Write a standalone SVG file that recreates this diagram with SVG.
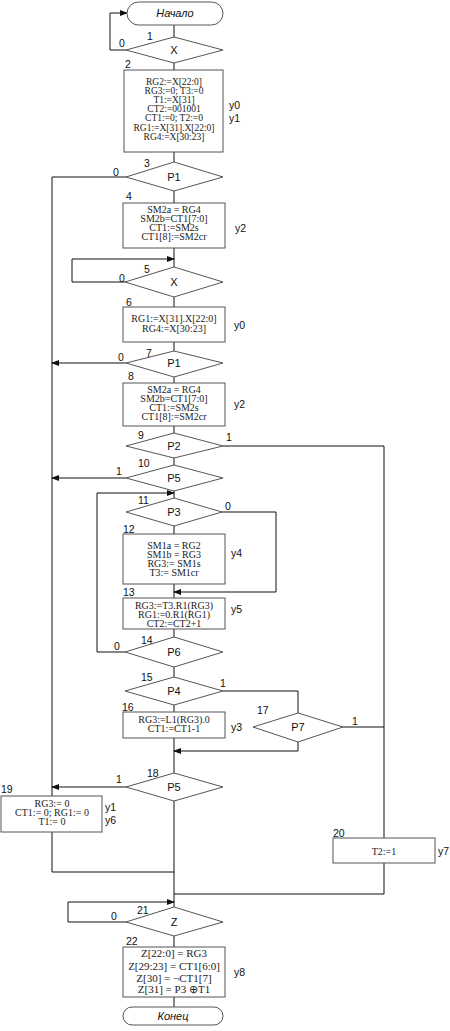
<svg xmlns="http://www.w3.org/2000/svg" width="450" height="1031" viewBox="0 0 450 1031">
<style>
.s{fill:#fff;stroke:#555;stroke-width:1}
.c{fill:none;stroke:#111;stroke-width:1}
.t{font-family:"Liberation Serif","Times New Roman",serif;font-size:10px;fill:#222;text-anchor:middle}
.t2{font-family:"Liberation Serif","Times New Roman",serif;font-size:9.5px;fill:#222;text-anchor:middle}
.t3{font-family:"Liberation Serif","Times New Roman",serif;font-size:11px;fill:#222;text-anchor:middle}
.l{font-family:"Liberation Sans",Arial,sans-serif;font-size:10.5px;fill:#111}
.d{font-family:"Liberation Sans",Arial,sans-serif;font-size:11px;fill:#111;text-anchor:middle}
.i{font-family:"Liberation Sans",Arial,sans-serif;font-size:11px;font-style:italic;fill:#111;text-anchor:middle}
</style>
<defs>
<marker id="a" markerWidth="8" markerHeight="6" refX="7" refY="3" orient="auto" markerUnits="userSpaceOnUse">
<path d="M0,0 L8,3 L0,6 Z" fill="#111"/>
</marker>
</defs>
<rect width="450" height="1031" fill="#fff"/>

<g id="connectors">
<path class="c" d="M174,25 V37"/>
<path class="c" d="M174,63 V70"/>
<path class="c" d="M174,152 V162"/>
<path class="c" d="M174,191 V203"/>
<path class="c" d="M174,248 V267"/>
<path class="c" d="M174,297 V307"/>
<path class="c" d="M174,342 V351"/>
<path class="c" d="M174,377 V383"/>
<path class="c" d="M174,426 V433"/>
<path class="c" d="M174,458 V465"/>
<path class="c" d="M174,491 V498"/>
<path class="c" d="M174,526 V534"/>
<path class="c" d="M174,584 V598"/>
<path class="c" d="M174,629 V637"/>
<path class="c" d="M174,667 V677"/>
<path class="c" d="M174,705 V712"/>
<path class="c" d="M174,738 V773"/>
<path class="c" d="M174,801 V907"/>
<path class="c" d="M174,936 V947"/>
<path class="c" d="M174,997 V1007"/>
<path class="c" d="M126,50 H110 V13 H127" marker-end="url(#a)"/>
<path class="c" d="M126,177 H52 V796"/>
<path class="c" d="M52,832 V872 H174"/>
<path class="c" d="M125,282 H72 V259 H174" marker-end="url(#a)"/>
<path class="c" d="M126,363 H52" marker-end="url(#a)"/>
<path class="c" d="M223,446 H384 V838"/>
<path class="c" d="M126,478 H52" marker-end="url(#a)"/>
<path class="c" d="M222,512 H276 V592 H174" marker-end="url(#a)"/>
<path class="c" d="M125,652 H97 V493 H174" marker-end="url(#a)"/>
<path class="c" d="M223,691 H298 V713"/>
<path class="c" d="M343,727 H384"/>
<path class="c" d="M298,742 V751 H174" marker-end="url(#a)"/>
<path class="c" d="M126,787 H52" marker-end="url(#a)"/>
<path class="c" d="M384,863 V894 H174"/>
<path class="c" d="M126,922 H68 V902 H174" marker-end="url(#a)"/>
</g>

<g id="start">
<rect class="s" x="127" y="2" width="96" height="23" rx="11.5"/>
<text class="i" x="175" y="17">Начало</text>
</g>

<g id="n1">
<polygon class="s" points="126,50 174,37 223,50 174,63"/>
<text class="d" x="174" y="54">X</text>
<text class="l" x="147" y="40">1</text>
<text class="l" x="119" y="47">0</text>
</g>

<g id="n2">
<rect class="s" x="124" y="70" width="99" height="82"/>
<text class="l" x="125" y="68">2</text>
<text class="t2" x="174" y="84.5">RG2:=X[22:0]</text>
<text class="t2" x="174" y="93.7">RG3:=0; T3:=0</text>
<text class="t2" x="174" y="102.9">T1:=X[31]</text>
<text class="t2" x="174" y="112.1">CT2:=001001</text>
<text class="t2" x="174" y="121.3">CT1:=0; T2:=0</text>
<text class="t2" x="174" y="130.5">RG1:=X[31].X[22:0]</text>
<text class="t2" x="174" y="139.7">RG4:=X[30:23]</text>
<text class="l" x="229" y="109">y0</text>
<text class="l" x="229" y="122">y1</text>
</g>

<g id="n3">
<polygon class="s" points="126,177 174,162 223,177 174,191"/>
<text class="d" x="174" y="181">P1</text>
<text class="l" x="144" y="167">3</text>
<text class="l" x="113" y="176">0</text>
</g>

<g id="n4">
<rect class="s" x="123" y="203" width="102" height="45"/>
<text class="l" x="126" y="200">4</text>
<text class="t" x="174" y="213">SM2a = RG4</text>
<text class="t" x="174" y="222">SM2b=CT1[7:0]</text>
<text class="t" x="174" y="231">CT1:=SM2s</text>
<text class="t" x="174" y="240">CT1[8]:=SM2cr</text>
<text class="l" x="235" y="232">y2</text>
</g>

<g id="n5">
<polygon class="s" points="125,282 174,267 223,282 174,297"/>
<text class="d" x="174" y="286">X</text>
<text class="l" x="144" y="273">5</text>
<text class="l" x="119" y="282">0</text>
</g>

<g id="n6">
<rect class="s" x="123" y="307" width="102" height="35"/>
<text class="l" x="126" y="306">6</text>
<text class="t" x="174" y="322">RG1:=X[31].X[22:0]</text>
<text class="t" x="174" y="332">RG4:=X[30:23]</text>
<text class="l" x="234" y="329">y0</text>
</g>

<g id="n7">
<polygon class="s" points="126,363 174,351 223,363 174,377"/>
<text class="d" x="174" y="367">P1</text>
<text class="l" x="146" y="357">7</text>
<text class="l" x="118" y="361">0</text>
</g>

<g id="n8">
<rect class="s" x="123" y="383" width="102" height="43"/>
<text class="l" x="128" y="380">8</text>
<text class="t" x="174" y="393">SM2a = RG4</text>
<text class="t" x="174" y="402">SM2b=CT1[7:0]</text>
<text class="t" x="174" y="411">CT1:=SM2s</text>
<text class="t" x="174" y="420">CT1[8]:=SM2cr</text>
<text class="l" x="234" y="408">y2</text>
</g>

<g id="n9">
<polygon class="s" points="126,446 174,433 223,446 174,458"/>
<text class="d" x="174" y="450">P2</text>
<text class="l" x="138" y="439">9</text>
<text class="l" x="226" y="441">1</text>
</g>

<g id="n10">
<polygon class="s" points="126,478 174,465 223,478 174,491"/>
<text class="d" x="174" y="482">P5</text>
<text class="l" x="138" y="467">10</text>
<text class="l" x="116" y="475">1</text>
</g>

<g id="n11">
<polygon class="s" points="126,512 174,498 222,512 174,526"/>
<text class="d" x="174" y="516">P3</text>
<text class="l" x="138" y="504">11</text>
<text class="l" x="225" y="510">0</text>
</g>

<g id="n12">
<rect class="s" x="123" y="534" width="102" height="50"/>
<text class="l" x="123" y="533">12</text>
<text class="t" x="174" y="549">SM1a = RG2</text>
<text class="t" x="174" y="558">SM1b = RG3</text>
<text class="t" x="174" y="567">RG3:= SM1s</text>
<text class="t" x="174" y="576">T3:= SM1cr</text>
<text class="l" x="231" y="557">y4</text>
</g>

<g id="n13">
<rect class="s" x="123" y="598" width="102" height="31"/>
<text class="l" x="123" y="596">13</text>
<text class="t" x="174" y="609">RG3:=T3.R1(RG3)</text>
<text class="t" x="174" y="618">RG1:=0.R1(RG1)</text>
<text class="t" x="174" y="627">CT2:=CT2+1</text>
<text class="l" x="231" y="613">y5</text>
</g>

<g id="n14">
<polygon class="s" points="125,652 174,637 223,652 174,667"/>
<text class="d" x="174" y="656">P6</text>
<text class="l" x="141" y="644">14</text>
<text class="l" x="114" y="650">0</text>
</g>

<g id="n15">
<polygon class="s" points="125,691 174,677 223,691 174,705"/>
<text class="d" x="174" y="695">P4</text>
<text class="l" x="141" y="681">15</text>
<text class="l" x="220" y="687">1</text>
</g>

<g id="n16">
<rect class="s" x="123" y="712" width="102" height="26"/>
<text class="l" x="122" y="711">16</text>
<text class="t" x="174" y="723">RG3:=L1(RG3).0</text>
<text class="t" x="174" y="732">CT1:=CT1-1</text>
<text class="l" x="231" y="731">y3</text>
</g>

<g id="n17">
<polygon class="s" points="253,727 298,713 343,727 298,742"/>
<text class="d" x="298" y="731">P7</text>
<text class="l" x="257" y="714">17</text>
<text class="l" x="352" y="725">1</text>
</g>

<g id="n18">
<polygon class="s" points="126,787 174,773 223,787 174,801"/>
<text class="d" x="174" y="791">P5</text>
<text class="l" x="147" y="777">18</text>
<text class="l" x="116" y="783">1</text>
</g>

<g id="n19">
<rect class="s" x="1" y="796" width="101" height="36"/>
<text class="l" x="1" y="793">19</text>
<text class="t" x="52" y="807">RG3:= 0</text>
<text class="t" x="52" y="816">CT1:= 0; RG1:= 0</text>
<text class="t" x="52" y="825">T1:= 0</text>
<text class="l" x="105" y="811">y1</text>
<text class="l" x="105" y="824">y6</text>
</g>

<g id="n20">
<rect class="s" x="333" y="838" width="102" height="25"/>
<text class="l" x="333" y="837">20</text>
<text class="t" x="384" y="855">T2:=1</text>
<text class="l" x="438" y="855">y7</text>
</g>

<g id="n21">
<polygon class="s" points="126,922 174,907 223,922 174,936"/>
<text class="d" x="174" y="926">Z</text>
<text class="l" x="137" y="914">21</text>
<text class="l" x="111" y="920">0</text>
</g>

<g id="n22">
<rect class="s" x="123" y="947" width="102" height="50"/>
<text class="l" x="126" y="945">22</text>
<text class="t3" x="174" y="957">Z[22:0] = RG3</text>
<text class="t3" x="174" y="969.5">Z[29:23] = CT1[6:0]</text>
<text class="t3" x="174" y="981.5">Z[30] = ¬CT1[7]</text>
<text class="t3" x="174" y="992.5">Z[31]  =  P3 ⊕T1</text>
<text class="l" x="234" y="976">y8</text>
</g>

<g id="end">
<rect class="s" x="123" y="1007" width="100" height="18" rx="9"/>
<text class="i" x="173" y="1020">Конец</text>
</g>
</svg>
